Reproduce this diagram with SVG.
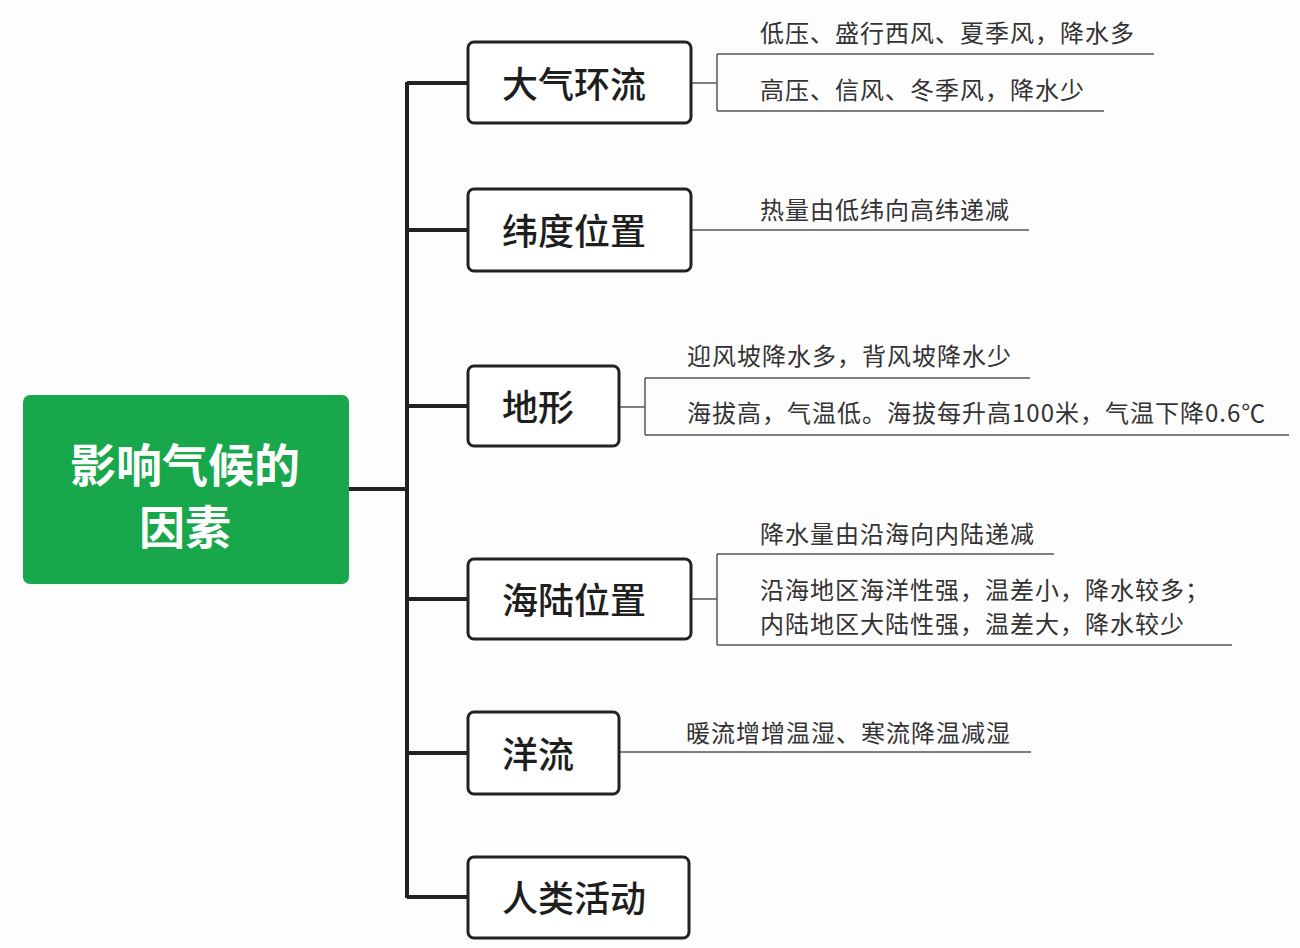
<svg xmlns="http://www.w3.org/2000/svg" width="1300" height="948" viewBox="0 0 1300 948">
<style>
.box{fill:#fff;stroke:#222;stroke-width:3}
.lbl{font-family:"Noto Sans CJK SC","Noto Sans",sans-serif;font-size:36px;font-weight:500;fill:#1e1e1e}
.leaf{font-family:"Noto Sans CJK SC","Noto Sans",sans-serif;font-size:24px;fill:#333;letter-spacing:1px}
.br{stroke:#222;stroke-width:4;fill:none}
.ln{stroke:#555;stroke-width:1.5;fill:none}
.root{font-family:"Noto Sans CJK SC","Noto Sans",sans-serif;font-size:46px;font-weight:bold;fill:#fff;text-anchor:middle}
</style>
<rect width="1300" height="948" fill="#fdfdfd"/>
<g id="connectors">
<path class="br" d="M349 489H407M407 82V898M407 83H468M407 230H468M407 406H468M407 599H468M407 753H468M407 897H468"/>
<path class="ln" d="M691 83H717M717 54V111M717 54H1154M717 111H1104"/>
<path class="ln" d="M691 230H1029"/>
<path class="ln" d="M619 407H645M645 378V435M645 378H1030M645 435H1289"/>
<path class="ln" d="M691 599H717M717 554V645M717 554H1054M717 645H1232"/>
<path class="ln" d="M619 752H1031"/>
</g>
<g id="root">
<rect x="23" y="395" width="326" height="189" rx="7" fill="#18a84b"/>
<text class="root" x="185" y="482">影响气候的</text>
<text class="root" x="185" y="544">因素</text>
</g>
<g id="n1">
<rect class="box" x="468" y="42" width="223" height="81" rx="6"/>
<text class="lbl" x="502" y="98">大气环流</text>
<text class="leaf" x="760" y="42">低压、盛行西风、夏季风，降水多</text>
<text class="leaf" x="760" y="99">高压、信风、冬季风，降水少</text>
</g>
<g id="n2">
<rect class="box" x="468" y="189" width="223" height="82" rx="6"/>
<text class="lbl" x="502" y="245">纬度位置</text>
<text class="leaf" x="760" y="219">热量由低纬向高纬递减</text>
</g>
<g id="n3">
<rect class="box" x="468" y="366" width="151" height="80" rx="6"/>
<text class="lbl" x="502" y="421">地形</text>
<text class="leaf" x="687" y="365">迎风坡降水多，背风坡降水少</text>
<text class="leaf" x="687" y="422">海拔高，气温低。海拔每升高100米，气温下降0.6℃</text>
</g>
<g id="n4">
<rect class="box" x="468" y="559" width="223" height="80" rx="6"/>
<text class="lbl" x="502" y="614">海陆位置</text>
<text class="leaf" x="760" y="543">降水量由沿海向内陆递减</text>
<text class="leaf" x="760" y="599">沿海地区海洋性强，温差小，降水较多；</text>
<text class="leaf" x="760" y="633">内陆地区大陆性强，温差大，降水较少</text>
</g>
<g id="n5">
<rect class="box" x="468" y="712" width="151" height="82" rx="6"/>
<text class="lbl" x="502" y="768">洋流</text>
<text class="leaf" x="686" y="742">暖流增增温湿、寒流降温减湿</text>
</g>
<g id="n6">
<rect class="box" x="468" y="857" width="221" height="81" rx="6"/>
<text class="lbl" x="502" y="912">人类活动</text>
</g>
</svg>
